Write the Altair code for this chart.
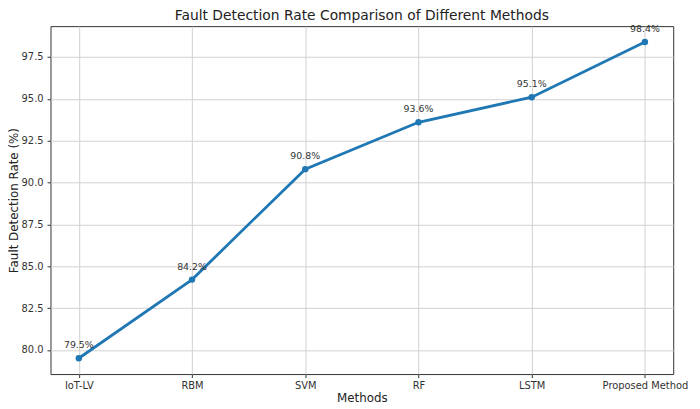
"""Fault detection rate line chart."""

import pandas as pd
import altair as alt

methods = ["IoT-LV", "RBM", "SVM", "RF", "LSTM", "Proposed Method"]
rates = [79.5, 84.2, 90.8, 93.6, 95.1, 98.4]
y_ticks = [80.0, 82.5, 85.0, 87.5, 90.0, 92.5, 95.0, 97.5]

df = pd.DataFrame({"method": methods, "rate": rates})
df["label"] = [f"{r:.1f}%" for r in rates]

font = "DejaVu Sans"
blue = "#1f77b4"

x_enc = alt.X(
    "method:N",
    sort=methods,
    title="Methods",
    scale=alt.Scale(type="point", padding=0.25),
    axis=alt.Axis(
        labelAngle=0,
        labelFont=font,
        labelFontSize=10,
        labelColor="#333333",
        labelPadding=3,
        tickSize=3.5,
        tickColor="#333333",
        domain=False,
        grid=True,
        gridColor="#d0d0d0",
        titleFont=font,
        titleFontSize=12,
        titleFontWeight="normal",
        titleColor="#222222",
        titlePadding=2,
    ),
)
y_enc = alt.Y(
    "rate:Q",
    title="Fault Detection Rate (%)",
    scale=alt.Scale(domain=[78.555, 99.345], nice=False, zero=False),
    axis=alt.Axis(
        values=y_ticks,
        format=".1f",
        labelFont=font,
        labelFontSize=10,
        labelColor="#333333",
        labelPadding=4,
        tickSize=3.5,
        tickColor="#333333",
        domain=False,
        grid=True,
        gridColor="#d0d0d0",
        titleFont=font,
        titleFontSize=12,
        titleFontWeight="normal",
        titleColor="#222222",
        titlePadding=1,
    ),
)

base = alt.Chart(df).encode(x=x_enc, y=y_enc)

line = base.mark_line(color=blue, strokeWidth=2.8)
points = base.mark_circle(color=blue, size=42, opacity=1)
labels = base.mark_text(
    dy=-10, baseline="alphabetic", font=font, fontSize=9.5, color="#333333"
).encode(text="label:N")

chart = (
    alt.layer(line, points, labels)
    .properties(
        width=630,
        height=352,
        title=alt.TitleParams(
            "Fault Detection Rate Comparison of Different Methods",
            font=font,
            fontSize=14,
            fontWeight="normal",
            color="#222222",
            offset=1,
        ),
        autosize=alt.AutoSizeParams(type="none"),
        padding={"left": 43, "top": 16, "right": 19, "bottom": 33},
    )
    .configure_view(stroke="#333333", strokeWidth=1)
)

chart.save("out.html", embed_options={"renderer": "svg", "actions": False})
